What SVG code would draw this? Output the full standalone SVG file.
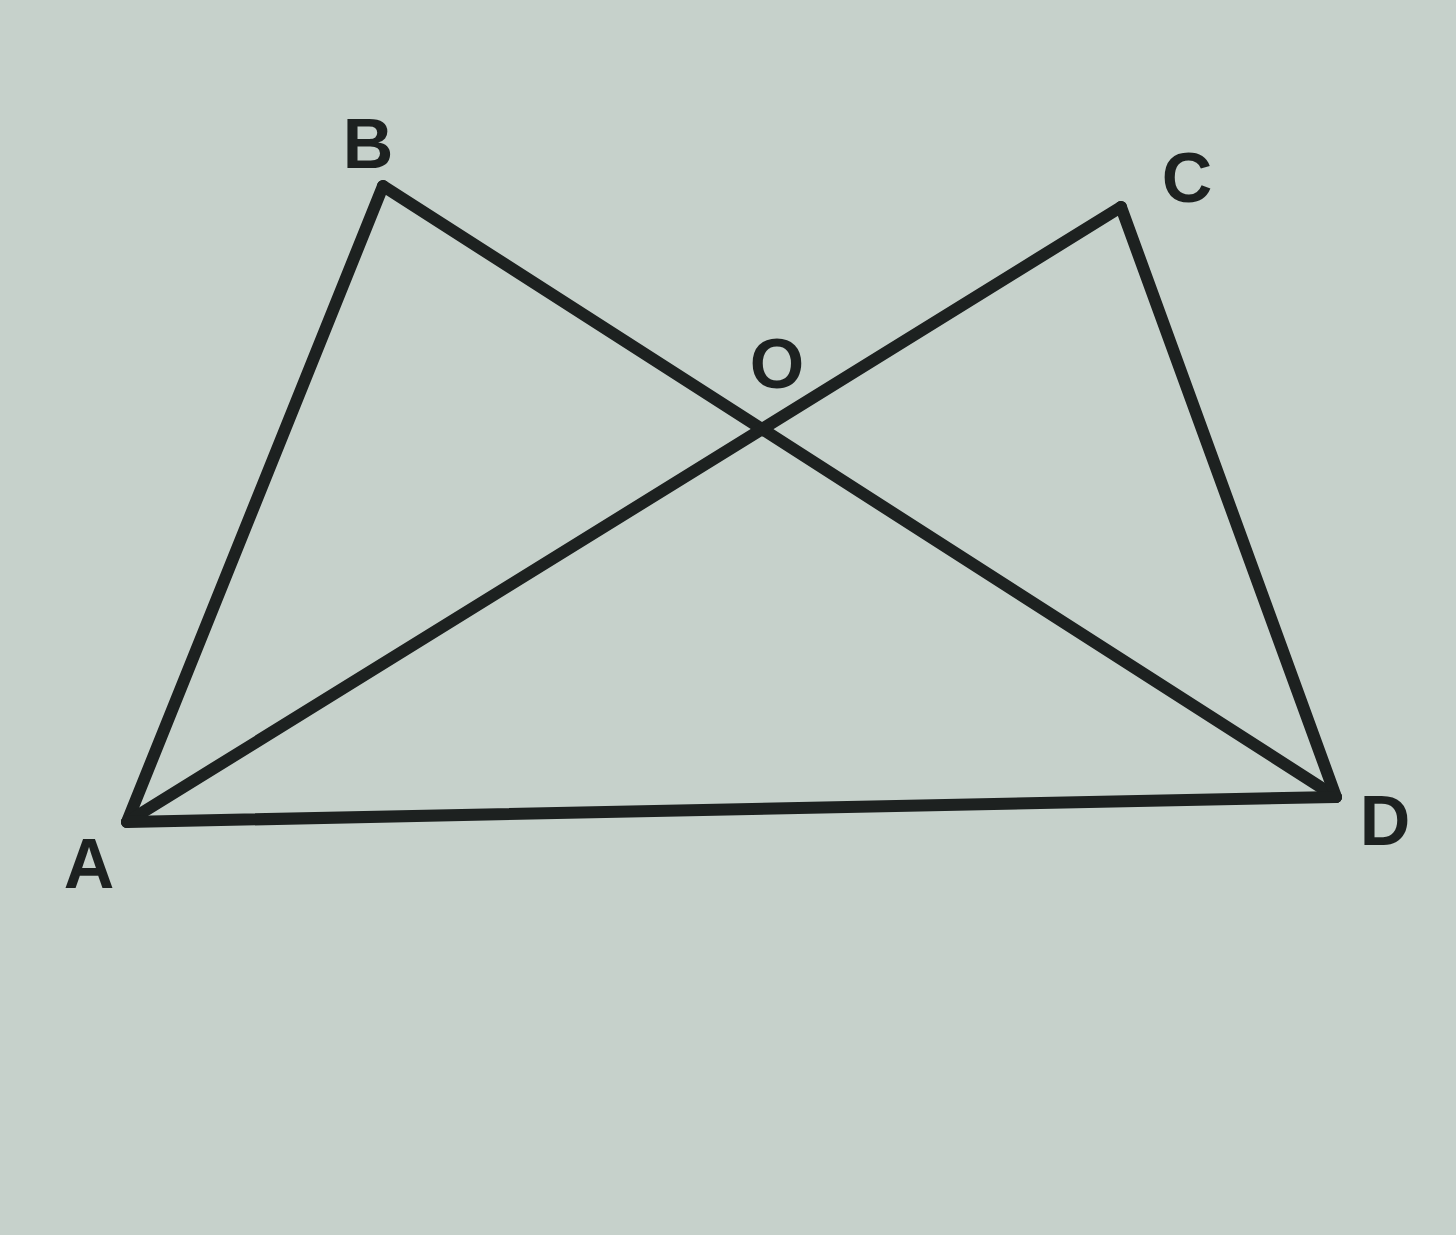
<svg xmlns="http://www.w3.org/2000/svg" width="1456" height="1235" viewBox="0 0 1456 1235">
<style>
.seg{stroke:#1d2120;stroke-width:12;stroke-linecap:round;stroke-linejoin:round;fill:none}
.lbl{font-family:"Liberation Sans",Arial,sans-serif;font-weight:bold;font-size:70px;fill:#1d2120;text-anchor:middle}
</style>
<rect width="1456" height="1235" fill="#c6d1cb"/>
<g id="connectors">
<line class="seg" x1="127" y1="822" x2="383" y2="186"/>
<line class="seg" x1="383" y1="186" x2="1336" y2="797"/>
<line class="seg" x1="127" y1="822" x2="1121" y2="207"/>
<line class="seg" x1="1121" y1="207" x2="1336" y2="797"/>
<line class="seg" x1="127" y1="822" x2="1336" y2="797"/>
</g>
<g id="A"><text class="lbl" x="89" y="888">A</text></g>
<g id="B"><text class="lbl" x="368" y="168">B</text></g>
<g id="C"><text class="lbl" x="1187" y="202">C</text></g>
<g id="D"><text class="lbl" x="1385" y="845">D</text></g>
<g id="O"><text class="lbl" x="777" y="388">O</text></g>
</svg>
